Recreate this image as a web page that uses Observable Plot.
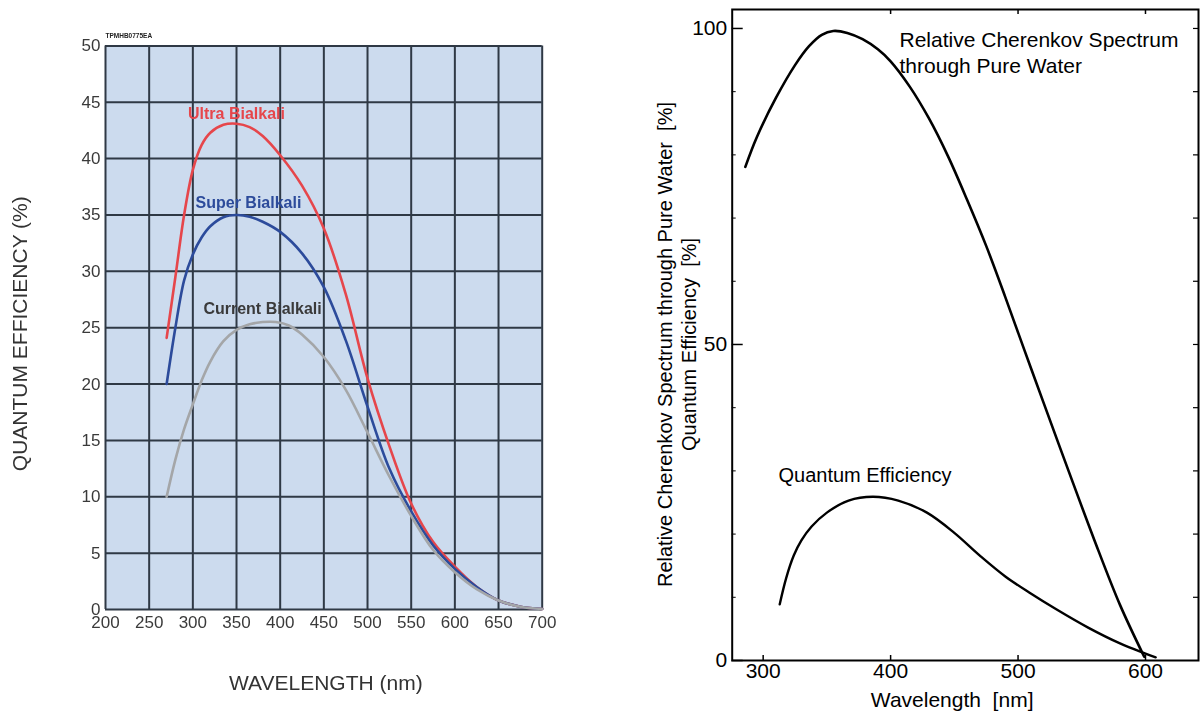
<!DOCTYPE html>
<html>
<head>
<meta charset="utf-8">
<script src="https://cdn.jsdelivr.net/npm/d3@7"></script>
<script src="https://cdn.jsdelivr.net/npm/@observablehq/plot@0.6"></script>
<style>
  html, body { margin: 0; padding: 0; background: #ffffff; }
  #page { position: relative; width: 1202px; height: 713px; overflow: hidden; background: #ffffff; }
  #page > div { position: absolute; top: 0; }
  #qe { left: 0; }
  #qe svg { filter: blur(0.4px); }
  #cherenkov { left: 600px; }
</style>
</head>
<body>
<div id="page">
  <div id="qe"></div>
  <div id="cherenkov"></div>
</div>
<script>
// ---- Photocathode quantum efficiency (left panel) ----
const seriesNames = ["Ultra Bialkali", "Super Bialkali", "Current Bialkali"];
const seriesColors = ["#e6464b", "#2c4b9b", "#a4a6a8"];

const ultraNm = [270, 280, 290, 300, 310, 320, 335, 350, 365, 380, 400, 425, 450, 475, 500, 525, 550, 575, 600, 625, 650, 675, 700];
const ultraQE = [24.1, 29.5, 35.0, 39.0, 41.2, 42.3, 43.0, 43.1, 42.8, 42.0, 40.3, 37.6, 33.8, 28.0, 20.5, 14.5, 9.4, 6.0, 3.8, 2.0, 0.8, 0.25, 0.05];

const superNm = [270, 280, 290, 300, 310, 320, 335, 350, 365, 380, 400, 425, 450, 475, 500, 525, 550, 575, 600, 625, 650, 675, 700];
const superQE = [20.0, 25.0, 29.2, 31.5, 33.0, 34.0, 34.8, 35.0, 34.85, 34.4, 33.5, 31.6, 28.6, 23.9, 18.0, 12.5, 8.7, 5.7, 3.6, 2.0, 0.8, 0.25, 0.05];

const currentNm = [270, 280, 290, 300, 310, 320, 335, 350, 365, 380, 395, 410, 425, 450, 475, 500, 525, 550, 575, 600, 625, 650, 675, 700];
const currentQE = [10.0, 13.3, 16.0, 18.2, 20.3, 22.0, 23.8, 24.8, 25.3, 25.5, 25.5, 25.2, 24.4, 22.4, 19.5, 15.7, 11.8, 8.3, 5.3, 3.3, 1.8, 0.8, 0.25, 0.05];

const qeTicksX = [200, 250, 300, 350, 400, 450, 500, 550, 600, 650, 700];
const qeTicksY = [0, 5, 10, 15, 20, 25, 30, 35, 40, 45, 50];

// ---- Cherenkov spectrum vs. quantum efficiency (right panel) ----
const cherenkovNm = [286, 295, 310, 325, 336, 346, 355, 366, 378, 390, 400, 415, 430, 445, 460, 475, 490, 505, 520, 540, 560, 580, 599];
const cherenkovPct = [78.1, 82.8, 89.0, 94.2, 97.2, 99.0, 99.6, 99.3, 98.3, 96.7, 94.8, 90.8, 85.8, 79.8, 72.9, 65.6, 57.5, 49.1, 40.8, 29.8, 19.0, 8.8, 0.6];

const pmtQENm = [313, 318, 324, 330, 338, 350, 367, 386, 406, 428.5, 450, 470, 490, 510, 530, 555, 580, 600, 608];
const pmtQEPct = [8.9, 13.0, 16.6, 19.0, 21.2, 23.4, 25.3, 25.9, 25.3, 23.4, 20.2, 16.6, 13.3, 10.6, 8.1, 5.2, 2.7, 1.1, 0.5];

const spectrumTicksX = [300, 400, 500, 600];
const spectrumTopTicks = [400, 500, 600];
const spectrumLabelTicksY = [0, 50, 100];
const spectrumMinorTicksY = [10, 20, 30, 40, 60, 70, 80, 90];
const spectrumRightTicksY = [10, 20, 30, 40, 50, 60, 70, 80, 90, 100];

const font = "'Liberation Sans', Arial, Helvetica, sans-serif";

// Long-format rows for the three photocathode curves
const qeRows = [
  [seriesNames[0], ultraNm, ultraQE],
  [seriesNames[1], superNm, superQE],
  [seriesNames[2], currentNm, currentQE]
].flatMap(([series, xs, ys]) => xs.map((nm, i) => ({series, nm, qe: ys[i]})));

const gridColor = "#2f3945";
const panelFill = "#ccdbee";

const left = Plot.plot({
  width: 600,
  height: 713,
  marginLeft: 105,
  marginRight: 58.3,
  marginTop: 45.4,
  marginBottom: 104,
  style: {fontFamily: font, background: "transparent"},
  x: {domain: [200, 700]},
  y: {domain: [0, 50]},
  color: {domain: seriesNames, range: seriesColors},
  marks: [
    Plot.frame({fill: panelFill, stroke: null}),
    Plot.gridX(qeTicksX, {stroke: gridColor, strokeOpacity: 1, strokeWidth: 2}),
    Plot.gridY(qeTicksY, {stroke: gridColor, strokeOpacity: 1, strokeWidth: 2}),
    Plot.axisX(qeTicksX, {tickSize: 0, tickPadding: 6, fontSize: 17, fill: "#3a3a3a", label: null}),
    Plot.axisY(qeTicksY, {tickSize: 0, tickPadding: 5, fontSize: 17, fill: "#3a3a3a", label: null}),
    Plot.line(qeRows, {x: "nm", y: "qe", z: "series", stroke: "series", strokeWidth: 2.6, curve: "catmull-rom"}),
    Plot.text([seriesNames[0]], {x: 350, y: 44.0, text: d => d, fill: seriesColors[0], fontSize: 16, fontWeight: "bold", lineAnchor: "middle"}),
    Plot.text([seriesNames[1]], {x: 363.7, y: 36.1, text: d => d, fill: seriesColors[1], fontSize: 16, fontWeight: "bold", lineAnchor: "middle"}),
    Plot.text([seriesNames[2]], {x: 379.8, y: 26.7, text: d => d, fill: "#3a3a3a", fontSize: 16, fontWeight: "bold", lineAnchor: "middle"}),
    Plot.text(["TPMHB0775EA"], {x: 200, y: 50, dy: -10, text: d => d, textAnchor: "start", fontSize: 6.5, fontWeight: "bold", fill: "#222", lineAnchor: "middle"}),
    Plot.text(["QUANTUM EFFICIENCY (%)"], {frameAnchor: "left", dx: -85, dy: 6, rotate: -90, text: d => d, textAnchor: "middle", lineAnchor: "middle", fontSize: 21, fill: "#333"}),
    Plot.text(["WAVELENGTH (nm)"], {frameAnchor: "bottom", dx: 2, dy: 74, text: d => d, textAnchor: "middle", lineAnchor: "middle", fontSize: 21, fill: "#333"})
  ]
});
document.getElementById("qe").appendChild(left);

// Right panel: x frame spans ~276–642 nm, y frame ~0–103 %
const xMin = 275.7, xMax = 641.6, yMax = 103.0;
const pxPerNm = (598 - 131.7) / (xMax - xMin);
const pxPerPct = (660 - 9) / yMax;

const right = Plot.plot({
  width: 602,
  height: 713,
  marginLeft: 131.7,
  marginRight: 4,
  marginTop: 9,
  marginBottom: 53,
  style: {fontFamily: font, background: "transparent"},
  x: {domain: [xMin, xMax]},
  y: {domain: [0, yMax]},
  marks: [
    Plot.frame({stroke: "#000", strokeWidth: 2}),
    // inward tick marks on all four sides
    Plot.ruleX(spectrumTicksX, {x: d => d, y1: 0, y2: 5 / pxPerPct, stroke: "#000", strokeWidth: 1.5}),
    Plot.ruleX(spectrumTopTicks, {x: d => d, y1: yMax, y2: yMax - 5 / pxPerPct, stroke: "#000", strokeWidth: 1.5}),
    Plot.ruleY(spectrumLabelTicksY, {y: d => d, x1: xMin, x2: xMin + 11 / pxPerNm, stroke: "#000", strokeWidth: 1.5}),
    Plot.ruleY(spectrumMinorTicksY, {y: d => d, x1: xMin, x2: xMin + 4 / pxPerNm, stroke: "#000", strokeWidth: 1}),
    Plot.ruleY(spectrumRightTicksY, {y: d => d, x1: xMax - 5 / pxPerNm, x2: xMax, stroke: "#000", strokeWidth: 1.2}),
    Plot.axisX(spectrumTicksX, {tickSize: 0, tickPadding: 3, fontSize: 21, fill: "#000", label: null}),
    Plot.axisY(spectrumLabelTicksY, {tickSize: 0, tickPadding: 5, fontSize: 21, fill: "#000", label: null}),
    Plot.line(cherenkovNm.map((nm, i) => ({nm, v: cherenkovPct[i]})), {x: "nm", y: "v", stroke: "#000", strokeWidth: 2.6, curve: "catmull-rom"}),
    Plot.line(pmtQENm.map((nm, i) => ({nm, v: pmtQEPct[i]})), {x: "nm", y: "v", stroke: "#000", strokeWidth: 2.4, curve: "catmull-rom"}),
    Plot.text(["Relative Cherenkov Spectrum\nthrough Pure Water"], {x: 407, y: 96.3, text: d => d, textAnchor: "start", lineAnchor: "middle", lineHeight: 1.2, fontSize: 21, fill: "#000"}),
    Plot.text(["Quantum Efficiency"], {x: 312, y: 29.2, text: d => d, textAnchor: "start", lineAnchor: "middle", fontSize: 20, fill: "#000"}),
    Plot.text(["Relative Cherenkov Spectrum through Pure Water\u00a0\u00a0[%]\nQuantum Efficiency\u00a0\u00a0[%]"], {frameAnchor: "left", dx: -55.7, dy: 9.5, rotate: -90, text: d => d, textAnchor: "middle", lineAnchor: "middle", lineHeight: 1.2, fontSize: 20, fill: "#000"}),
    Plot.text(["Wavelength\u00a0\u00a0[nm]"], {frameAnchor: "bottom", dx: -13.2, dy: 40, text: d => d, textAnchor: "middle", lineAnchor: "middle", fontSize: 21, fill: "#000"})
  ]
});
document.getElementById("cherenkov").appendChild(right);
</script>
</body>
</html>
